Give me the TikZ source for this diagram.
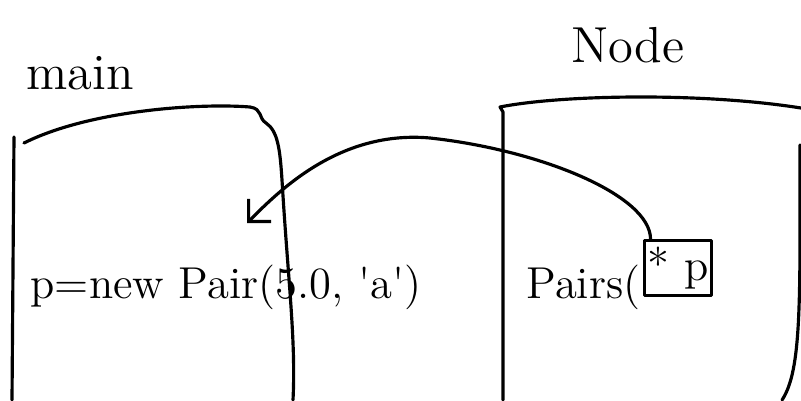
\documentclass[tikz,border=0pt]{standalone}
\usepackage{tikz}
\usetikzlibrary{arrows.meta,positioning}

\begin{document}
\begin{tikzpicture}[
    x=0.01cm, y=-0.01cm,
    ink/.style={line width=0.9pt, line cap=round, line join=round},
    lbl/.style={font=\Large, inner sep=0pt},
    code/.style={font=\fontsize{12.7}{15}\selectfont, inner sep=0pt},
    ptrbox/.style={draw, ink, font=\fontsize{12.7}{15}\selectfont, minimum width=0.65cm, minimum height=0.55cm, inner sep=1pt},
    arr/.style={ink, -{Straight Barb[length=1.6mm, width=3.2mm]}},
]
  \useasboundingbox (0,0) rectangle (801,400);

  \node[lbl, anchor=base] (mainlbl) at (80,89)  {main};
  \node[lbl, anchor=base] (nodelbl) at (628,62) {Node};

  \draw[ink] (14,137) -- (12,400);
  \draw[ink] (24,143) .. controls (90,110) and (200,103) .. (250,107)
             .. controls (263,109) and (258,118) .. (266,123)
             .. controls (278,131) and (280,150) .. (282,180)
             .. controls (288,280) and (296,340) .. (293,400);

  \draw[ink] (503,400) -- (503,112) -- (500,107)
             .. controls (560,95) and (700,92) .. (801,108);
  \draw[ink] (800,145) .. controls (800,300) and (802,370) .. (782,400);

  \node[code, anchor=base west] (newpair) at (30,298) {p=new Pair(5.0, \textquotesingle a\textquotesingle)};
  \node[ptrbox] (ptr) at (678,268) {* p};
  \node[code, anchor=base east] (pairs) at (641,298) {Pairs(};

  \coordinate (tip) at (247,223);
  \draw[arr] ([xshift=0.08cm]ptr.north west)
        .. controls (650,195) and (540,150) .. (430,138)
        .. controls (340,130) and (280,190) .. (tip);
\end{tikzpicture}
\end{document}
